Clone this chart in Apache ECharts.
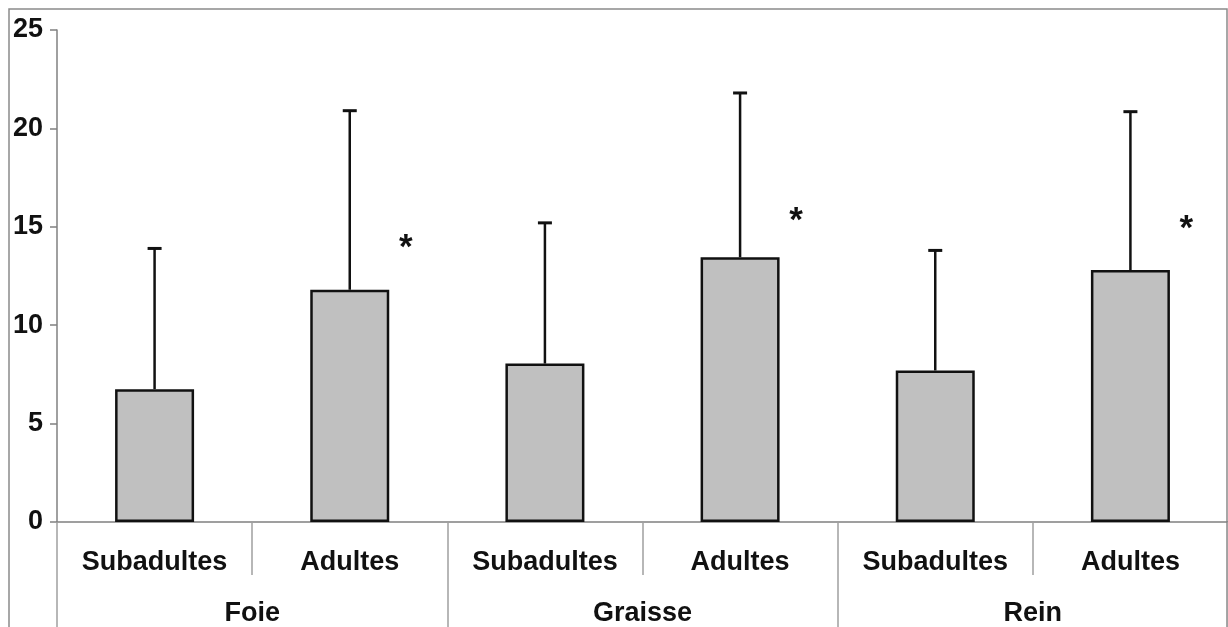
<!DOCTYPE html>
<html>
<head>
<meta charset="utf-8">
<script src="https://cdn.jsdelivr.net/npm/echarts@6/dist/echarts.min.js"></script>
<style>
  html, body { margin: 0; padding: 0; background: #fff; }
  #chart { width: 1228px; height: 627px; }
</style>
</head>
<body>
<div id="chart"></div>
<script>
// catégories (niveau 1 et niveau 2)
const ageClasses = ['Subadultes', 'Adultes', 'Subadultes', 'Adultes', 'Subadultes', 'Adultes']
const tissues = ['Foie', 'Graisse', 'Rein']

// moyennes et bornes supérieures (moyenne + écart-type)
const means = [6.75, 11.8, 8.05, 13.45, 7.7, 12.8]
const upperBounds = [13.9, 20.9, 15.2, 21.8, 13.8, 20.85]

// astérisques : index de la catégorie et hauteur
const starIndex = [1, 3, 5]
const starValue = [14.2, 15.6, 15.2]

const yTicks = [0, 5, 10, 15, 20, 25]

const font = '"Liberation Sans", Arial, sans-serif'

const chart = echarts.init(document.getElementById('chart'))

const option = {
  animation: false,
  backgroundColor: '#fff',
  graphic: [
    {
      type: 'rect',
      shape: { x: 9, y: 9, width: 1218, height: 640 },
      style: { fill: 'none', stroke: '#8a8a8a', lineWidth: 1.5 },
      silent: true
    }
  ],
  grid: {
    left: 57,
    right: 0,
    top: 30,
    bottom: 104
  },
  xAxis: [
    {
      type: 'category',
      data: ageClasses,
      position: 'bottom',
      axisLine: { show: true, lineStyle: { color: '#808080', width: 1.5 } },
      axisTick: {
        show: true,
        interval: 0,
        length: 53,
        lineStyle: { color: '#a0a0a0', width: 1.5 }
      },
      axisLabel: {
        interval: 0,
        margin: 27,
        color: '#111',
        fontFamily: font,
        fontWeight: 'bold',
        fontSize: 27
      },
      splitLine: { show: false }
    },
    {
      type: 'category',
      data: tissues,
      position: 'bottom',
      offset: 53,
      axisLine: { show: false },
      axisTick: {
        show: true,
        interval: 0,
        length: 60,
        lineStyle: { color: '#a0a0a0', width: 1.5 }
      },
      axisLabel: {
        interval: 0,
        margin: 25,
        color: '#111',
        fontFamily: font,
        fontWeight: 'bold',
        fontSize: 27
      },
      splitLine: { show: false }
    }
  ],
  yAxis: {
    type: 'value',
    min: yTicks[0],
    max: yTicks[yTicks.length - 1],
    interval: 5,
    axisLine: { show: true, lineStyle: { color: '#808080', width: 1.5 } },
    axisTick: { show: true, inside: false, length: 7, lineStyle: { color: '#808080', width: 1.5 } },
    axisLabel: {
      margin: 14,
      color: '#111',
      fontFamily: font,
      fontWeight: 'bold',
      fontSize: 27
    },
    splitLine: { show: false }
  },
  series: [
    {
      type: 'bar',
      xAxisIndex: 0,
      data: means,
      barWidth: 79,
      itemStyle: {
        color: '#c0c0c0',
        borderColor: '#111',
        borderWidth: 2.5
      },
      z: 2
    },
    {
      // barres d'erreur (partie supérieure seulement)
      type: 'custom',
      xAxisIndex: 0,
      data: means.map((m, i) => [i, m, upperBounds[i]]),
      renderItem: function (params, api) {
        const base = api.coord([api.value(0), api.value(1)])
        const top = api.coord([api.value(0), api.value(2)])
        const half = 7
        return {
          type: 'group',
          children: [
            {
              type: 'line',
              shape: { x1: base[0], y1: base[1], x2: top[0], y2: top[1] },
              style: { stroke: '#111', lineWidth: 2.5 }
            },
            {
              type: 'line',
              shape: { x1: top[0] - half, y1: top[1], x2: top[0] + half, y2: top[1] },
              style: { stroke: '#111', lineWidth: 3 }
            }
          ]
        }
      },
      z: 3
    },
    {
      // astérisques de significativité
      type: 'custom',
      xAxisIndex: 0,
      data: starIndex.map((idx, i) => [idx, starValue[i]]),
      renderItem: function (params, api) {
        const p = api.coord([api.value(0), api.value(1)])
        return {
          type: 'text',
          style: {
            x: p[0] + 56,
            y: p[1] + 6,
            text: '*',
            fill: '#111',
            font: 'bold 35px ' + font,
            textAlign: 'center',
            textVerticalAlign: 'middle'
          }
        }
      },
      z: 4
    }
  ]
}

chart.setOption(option)
</script>
</body>
</html>
